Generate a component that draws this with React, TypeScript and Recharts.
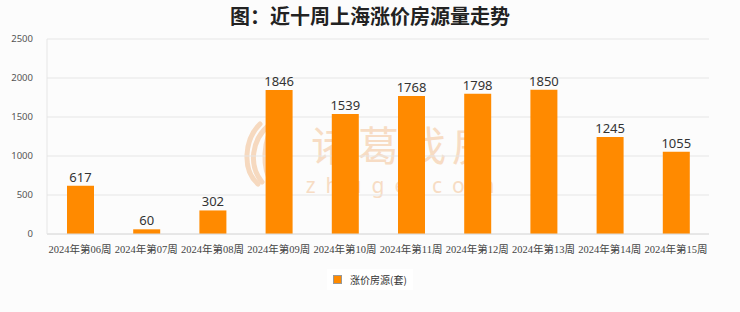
import React from "react";
import {
  BarChart,
  Bar,
  XAxis,
  YAxis,
  CartesianGrid,
  LabelList,
  ReferenceArea,
} from "recharts";

const weeks = [
  "2024年第06周",
  "2024年第07周",
  "2024年第08周",
  "2024年第09周",
  "2024年第10周",
  "2024年第11周",
  "2024年第12周",
  "2024年第13周",
  "2024年第14周",
  "2024年第15周",
];
const counts = [617, 60, 302, 1846, 1539, 1768, 1798, 1850, 1245, 1055];
const yTicks = [0, 500, 1000, 1500, 2000, 2500];
const seriesName = "涨价房源(套)";
const title = "图：近十周上海涨价房源量走势";

const data = weeks.map((w, i) => ({ week: w, value: counts[i] }));

const ORANGE = "#FF8A00";

const LegendBox = () => (
  <div
    style={{
      position: "absolute",
      top: 269,
      left: 0,
      width: 740,
      display: "flex",
      justifyContent: "center",
    }}
  >
    <div
      style={{
        background: "#ffffff",
        padding: "4px 6px",
        display: "flex",
        alignItems: "center",
        fontSize: 10,
        lineHeight: "13px",
        color: "#333",
        fontFamily: "'Noto Sans CJK SC', sans-serif",
      }}
    >
      <span
        style={{
          display: "inline-block",
          width: 7,
          height: 7,
          background: ORANGE,
          border: "1px solid #999",
          marginRight: 8,
        }}
      />
      <span>{seriesName}</span>
    </div>
  </div>
);

const Watermark = () => (
  <div
    style={{
      position: "absolute",
      left: 0,
      top: 0,
      width: 740,
      height: 312,
      pointerEvents: "none",
    }}
  >
    <svg width={740} height={312}>
      <g fill="none" stroke="#f6d9bf" strokeWidth={5} strokeLinecap="round">
        <path d="M268 126 C 252 140, 248 165, 262 182" />
        <path d="M276 122 C 262 140, 262 168, 272 184" />
        <path d="M268 126 C 284 140, 288 165, 274 182" />
        <path d="M260 124 C 244 140, 242 170, 258 184" />
      </g>
      <text
        x={405}
        y={161}
        textAnchor="middle"
        fontSize={41}
        fill="#f7dcc4"
        fontFamily="'Noto Sans CJK SC', sans-serif"
        letterSpacing={6}
      >
        诸葛找房
      </text>
      <text
        x={405}
        y={193}
        textAnchor="middle"
        fontSize={21}
        fill="#f7dcc4"
        fontFamily="'Noto Sans', sans-serif"
        letterSpacing={10}
      >
        zhuge.com
      </text>
    </svg>
  </div>
);

export default function App() {
  return (
    <div
      style={{
        position: "absolute",
        left: 0,
        top: 0,
        width: 740,
        height: 312,
        background: "#fcfcfc",
        overflow: "hidden",
      }}
    >
      <div
        style={{
          position: "absolute",
          top: 3,
          left: 0,
          width: 740,
          textAlign: "center",
          fontSize: 20,
          fontWeight: 600,
          color: "#222",
          fontFamily: "'Noto Sans CJK SC', sans-serif",
          lineHeight: "26px",
        }}
      >
        {title}
      </div>
      <Watermark />
      <div style={{ position: "absolute", left: 0, top: 0 }}>
        <BarChart
          width={740}
          height={312}
          data={data}
          margin={{ top: 39, right: 31, left: 0, bottom: 54 }}
        >
          <CartesianGrid vertical={false} stroke="#e6e6e6" />
          <XAxis
            dataKey="week"
            interval={0}
            tickLine={false}
            axisLine={{ stroke: "#dcdcdc" }}
            tick={{
              fontSize: 10.5,
              fill: "#444",
              fontFamily: "'Liberation Serif', 'Noto Sans CJK SC', serif",
            }}
            tickMargin={6}
            height={24}
          />
          <YAxis
            domain={[0, 2500]}
            ticks={yTicks}
            width={47}
            tickLine={false}
            axisLine={{ stroke: "#e6e6e6" }}
            tick={{
              fontSize: 9.5,
              fill: "#555",
              fontFamily: "'Noto Sans', sans-serif",
            }}
            tickMargin={8}
          />
          <ReferenceArea
            fill="none"
            stroke="#e3e3e3"
            strokeWidth={1}
            ifOverflow="visible"
          />
          <Bar
            dataKey="value"
            name={seriesName}
            fill={ORANGE}
            barSize={27}
            isAnimationActive={false}
          >
            <LabelList
              dataKey="value"
              position="top"
              offset={4}
              fill="#333"
              fontSize={13}
              fontFamily="'Noto Sans', sans-serif"
            />
          </Bar>
        </BarChart>
      </div>
      <LegendBox />
    </div>
  );
}
